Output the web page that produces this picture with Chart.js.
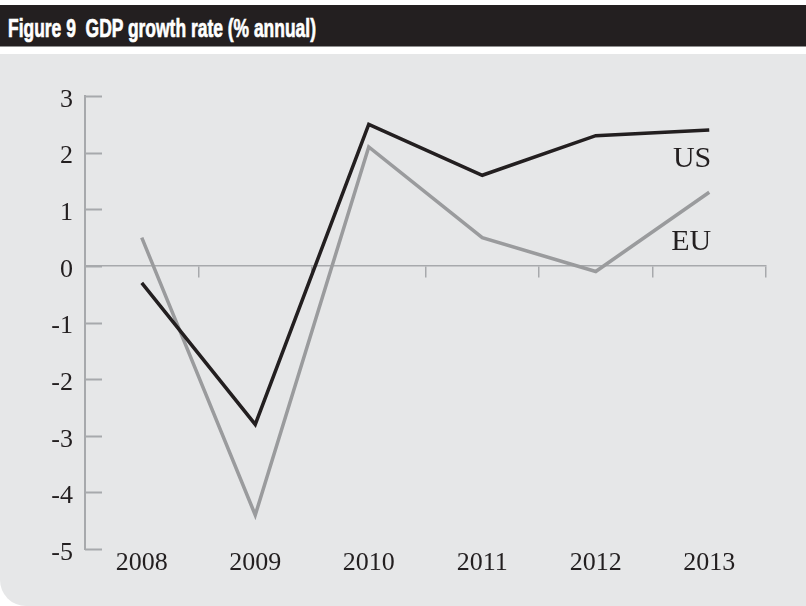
<!DOCTYPE html>
<html>
<head>
<meta charset="utf-8">
<script src="https://cdn.jsdelivr.net/npm/chart.js@4/dist/chart.umd.min.js"></script>
<style>
    html, body { margin: 0; padding: 0; background: #ffffff; }
    #page { position: relative; width: 806px; height: 606px; overflow: hidden; }
    #header {
        position: absolute; left: 0; top: 5px; width: 806px; height: 41px;
        background: #231f20; border-bottom: 1px solid #8f8f8f;
    }
    #title {
        position: absolute; left: 8px; top: 8px; white-space: nowrap;
        font-family: "Liberation Sans", "Noto Sans", sans-serif; font-weight: bold;
        font-size: 26px; line-height: 30px; color: #ffffff; transform-origin: left center;
        -webkit-text-stroke: 0.7px #ffffff;
    }
    #panel {
        position: absolute; left: 0; top: 54px; width: 806px; height: 552px;
        background: #e6e7e8; border-bottom-left-radius: 26px;
    }
    canvas { display: block; }
</style>
</head>
<body>
<div id="page">
    <div id="header"><span id="title">Figure 9&nbsp;&nbsp;GDP growth rate (% annual)</span></div>
    <div id="panel"><canvas id="gdpChart" width="806" height="552"></canvas></div>
</div>
<script>
    // data
    const years = ["2008", "2009", "2010", "2011", "2012", "2013"];
    const usGrowth = [-0.3, -2.8, 2.5, 1.6, 2.3, 2.4];
    const euGrowth = [0.5, -4.4, 2.1, 0.5, -0.1, 1.3];
    const yTickValues = [3, 2, 1, 0, -1, -2, -3, -4, -5];

    // squeeze the title into the narrow width of the original
    const title = document.getElementById("title");
    title.style.transform = "scaleX(" + (308 / title.offsetWidth) + ")";

    const axisGray = "#a7a9ac";
    const serif = { family: "'Liberation Serif', 'DejaVu Serif', serif", size: 26 };

    // inward tick marks on the y axis, plus the US / EU end labels
    const extras = {
        id: "extras",
        beforeDatasetsDraw(chart) {
            const ctx = chart.ctx;
            const y = chart.scales.y;
            const left = chart.chartArea.left;
            ctx.save();
            ctx.strokeStyle = axisGray;
            ctx.lineWidth = 2;
            y.ticks.forEach((t, i) => {
                const py = Math.round(y.getPixelForTick(i)) + 0.5;
                ctx.beginPath();
                ctx.moveTo(left, py);
                ctx.lineTo(left + 17, py);
                ctx.stroke();
            });
            ctx.restore();
        },
        afterDatasetsDraw(chart) {
            const ctx = chart.ctx;
            const x = chart.scales.x;
            const y = chart.scales.y;
            const px = x.getPixelForValue(years.length - 1) + 2;
            ctx.save();
            ctx.fillStyle = "#231f20";
            ctx.font = "30px 'Liberation Serif', 'DejaVu Serif', serif";
            ctx.textAlign = "right";
            ctx.textBaseline = "alphabetic";
            ctx.fillText("US", px, y.getPixelForValue(1.75));
            ctx.fillText("EU", px, y.getPixelForValue(0.28));
            ctx.restore();
        }
    };

    new Chart(document.getElementById("gdpChart"), {
        type: "line",
        data: {
            labels: years,
            datasets: [
                {
                    label: "US",
                    data: usGrowth,
                    borderColor: "#231f20",
                    borderWidth: 3.5,
                    pointRadius: 0,
                    tension: 0,
                    borderJoinStyle: "miter",
                    order: 1
                },
                {
                    label: "EU",
                    data: euGrowth,
                    borderColor: "#9a9b9d",
                    borderWidth: 3.5,
                    pointRadius: 0,
                    tension: 0,
                    borderJoinStyle: "miter",
                    order: 2
                }
            ]
        },
        options: {
            responsive: false,
            animation: false,
            layout: { padding: { top: 42, right: 40, left: 0, bottom: 0 } },
            plugins: {
                legend: { display: false },
                tooltip: { enabled: false }
            },
            scales: {
                x: {
                    type: "category",
                    offset: true,
                    grid: { display: false },
                    border: { display: false },
                    ticks: { color: "#231f20", font: serif, padding: -9, maxRotation: 0 },
                    afterFit(s) { s.height = 57; }
                },
                xZero: {
                    type: "category",
                    axis: "x",
                    labels: years,
                    position: { y: 0 },
                    offset: true,
                    grid: {
                        display: true,
                        offset: true,
                        drawOnChartArea: false,
                        drawTicks: true,
                        tickLength: 11,
                        color: axisGray,
                        lineWidth: 1.5
                    },
                    border: { display: true, color: axisGray, width: 1.5 },
                    ticks: { display: false }
                },
                y: {
                    min: -5,
                    max: 3,
                    afterBuildTicks(s) { s.ticks = yTickValues.map(v => ({ value: v })); },
                    grid: { display: false, drawTicks: false },
                    border: { display: true, color: axisGray, width: 2 },
                    ticks: { color: "#231f20", font: serif, padding: 12, labelOffset: 4 },
                    afterFit(s) { s.width = 85; }
                }
            }
        },
        plugins: [extras]
    });
</script>
</body>
</html>
